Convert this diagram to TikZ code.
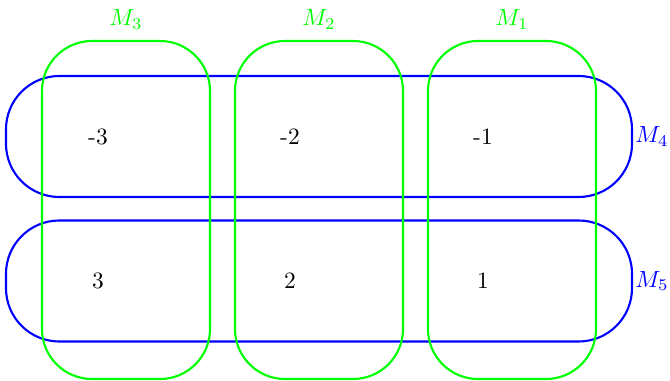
\documentclass[tikz,border=0pt]{standalone}
\usetikzlibrary{positioning}
\begin{document}
\begin{tikzpicture}[x=0.015cm,y=-0.015cm,
    blueset/.style={draw=blue, line width=0.9pt, rounded corners=0.8cm, minimum width=9.39cm, minimum height=1.815cm},
    greenset/.style={draw=green, line width=0.9pt, rounded corners=0.75cm, minimum width=2.52cm, minimum height=5.07cm}]
                      \useasboundingbox (0,0) rectangle (670,381);
                      \node[blueset] (M4) at (319,136.5) {};
                      \node[blueset] (M5) at (319,281) {};
                      \node[greenset] (M3) at (126,210) {};
                      \node[greenset] (M2) at (319,210) {};
                      \node[greenset] (M1) at (512,210) {};

                      \node[text=green, above=1pt of M3] (l3) {$M_3$};
                      \node[text=green, above=1pt of M2] (l2) {$M_2$};
                      \node[text=green, above=1pt of M1] (l1) {$M_1$};
                      \node[text=blue, right=-2.5pt of M4] (l4) {$M_4$};
                      \node[text=blue, right=-2.5pt of M5] (l5) {$M_5$};

                      \node (n-3) at (98,137) {-3};
                      \node (n-2) at (290,137) {-2};
                      \node (n-1) at (483,137) {-1};
                      \node (n3) at (98,281) {3};
                      \node (n2) at (290,281) {2};
                      \node (n1) at (483,281) {1};
                  \end{tikzpicture}
\end{document}
